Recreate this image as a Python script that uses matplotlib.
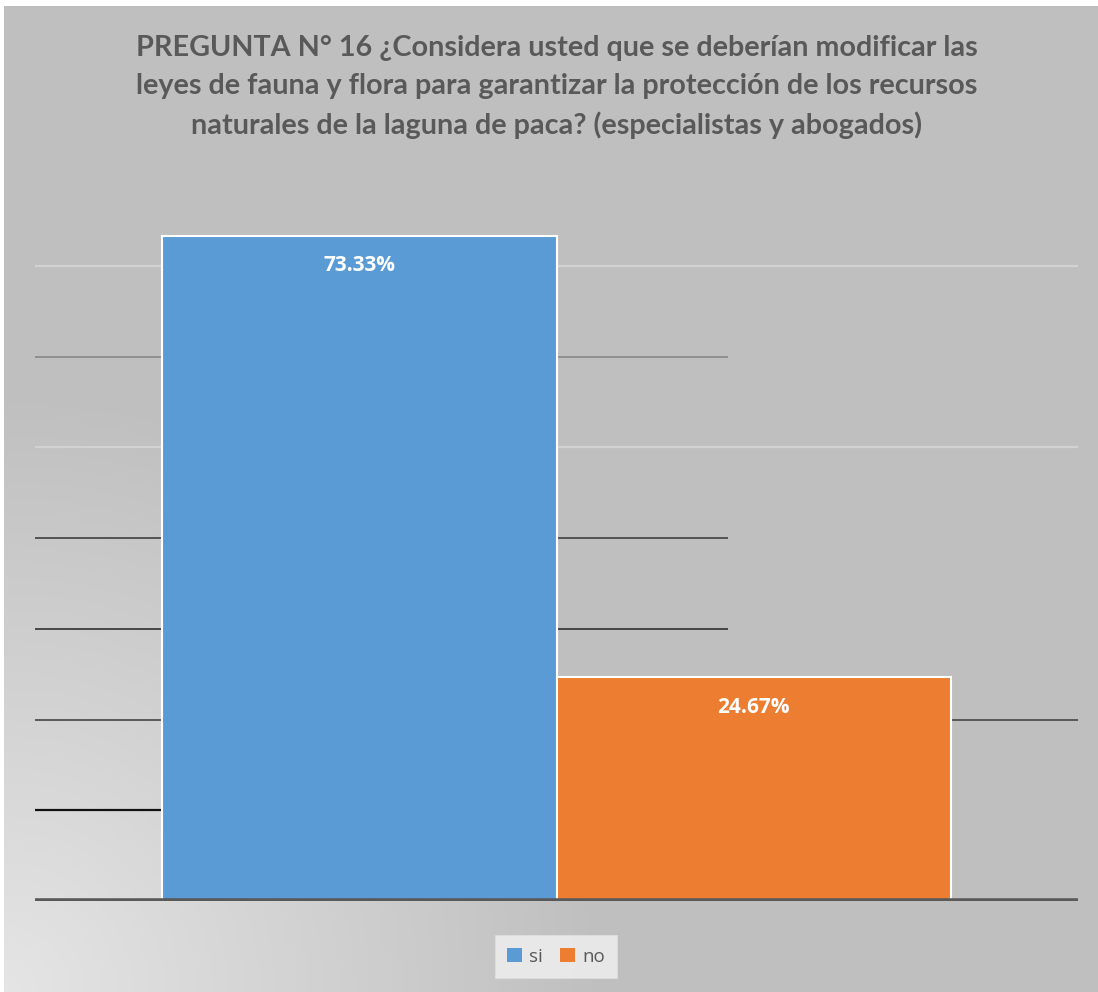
import numpy as np
import matplotlib
matplotlib.use("Agg")
import matplotlib.pyplot as plt
from matplotlib.patches import Patch

# ---- data ----
series = ["si", "no"]
values = [73.33, 24.67]
labels = ["73.33%", "24.67%"]
colors = ["#5B9BD5", "#ED7D31"]
title = ("PREGUNTA N° 16 ¿Considera usted que se deberían modificar las\n"
         "leyes de fauna y flora para garantizar la protección de los recursos\n"
         "naturales de la laguna de paca? (especialistas y abogados)")
grid_levels = [10, 20, 30, 40, 50, 60, 70]

W, H = 1098, 992
fig = plt.figure(figsize=(W / 100, H / 100), dpi=100)
fig.patch.set_facecolor("white")

# background with gradient (lighter to bottom-left)
bg = fig.add_axes([4 / W, 0, 1 - 4 / W, 1 - 6 / H])
ny, nx = 300, 330
yy, xx = np.mgrid[0:ny, 0:nx]
d = np.sqrt((xx / nx * 1.0) ** 2 + ((ny - 1 - yy) / ny * 0.9) ** 2)
t = np.clip(1 - d / 0.55, 0, 1)
v = (191 + 38 * t) / 255.0
img = np.dstack([v, v, v])
bg.imshow(img, extent=[0, 1, 0, 1], aspect="auto", origin="upper")
bg.set_xlim(0, 1); bg.set_ylim(0, 1)
bg.axis("off")

# main axes
left = 35 / W
right = 1078 / W
bottom = 1 - 901 / H
top = 1 - 175.4 / H
ax = fig.add_axes([left, bottom, right - left, top - bottom])
ax.set_facecolor("none")
ax.set_xlim(-0.5, 0.5)
ax.set_ylim(0, 80)

w = 0.378
xpos = [-w / 2, w / 2]

# gridlines (irregular rendering as in reference)
grid_style = {
    70: ("#D2D2D2", 0.5, 1.6),
    60: ("#8C8C8C", 0.1644, 1.3),
    50: ("#D2D2D2", 0.5, 1.6),
    40: ("#4A4A4A", 0.1644, 1.3),
    30: ("#3C3C3C", 0.1644, 1.3),
    20: ("#505050", 0.5, 1.3),
    10: ("#111111", 0.0, 1.6),
}
for g in grid_levels:
    c, xe, lw = grid_style[g]
    ax.hlines(g, -0.5, xe, colors=c, lw=lw, zorder=1)

bars = ax.bar(xpos, values, width=w, color=colors, edgecolor="white",
              linewidth=1.5, zorder=2)
for x, v_, lab in zip(xpos, values, labels):
    ax.annotate(lab, (x, v_), xytext=(0, -30), textcoords="offset pixels",
                ha="center", va="center", color="white", fontsize=15,
                fontweight="bold", family=["Open Sans", "DejaVu Sans"], zorder=3)

ax.axhline(0, color="#595959", lw=4, zorder=4)
for s in ax.spines.values():
    s.set_visible(False)
ax.set_xticks([]); ax.set_yticks([])

fig.text(557 / W, 1 - 87 / H, title, ha="center", va="center",
         fontsize=20.7, fontweight="bold", color="#595959",
         family=["Lato", "DejaVu Sans"], linespacing=1.56)

handles = [Patch(facecolor=c, edgecolor="none") for c in colors]
leg = fig.legend(handles, series, loc="center", bbox_to_anchor=(556 / W, 1 - 956.5 / H),
                 ncol=2, frameon=True, fontsize=13.5, handlelength=0.8,
                 handleheight=0.8, handletextpad=0.4, columnspacing=0.9,
                 borderpad=0.65, fancybox=False)
leg.get_frame().set_facecolor("#F2F2F2")
leg.get_frame().set_edgecolor("#E0E0E0")
leg.get_frame().set_linewidth(0.6)
for tx in leg.get_texts():
    tx.set_color("#595959")
    tx.set_family(["Open Sans", "DejaVu Sans"])

fig.savefig("out.png", dpi=100)
